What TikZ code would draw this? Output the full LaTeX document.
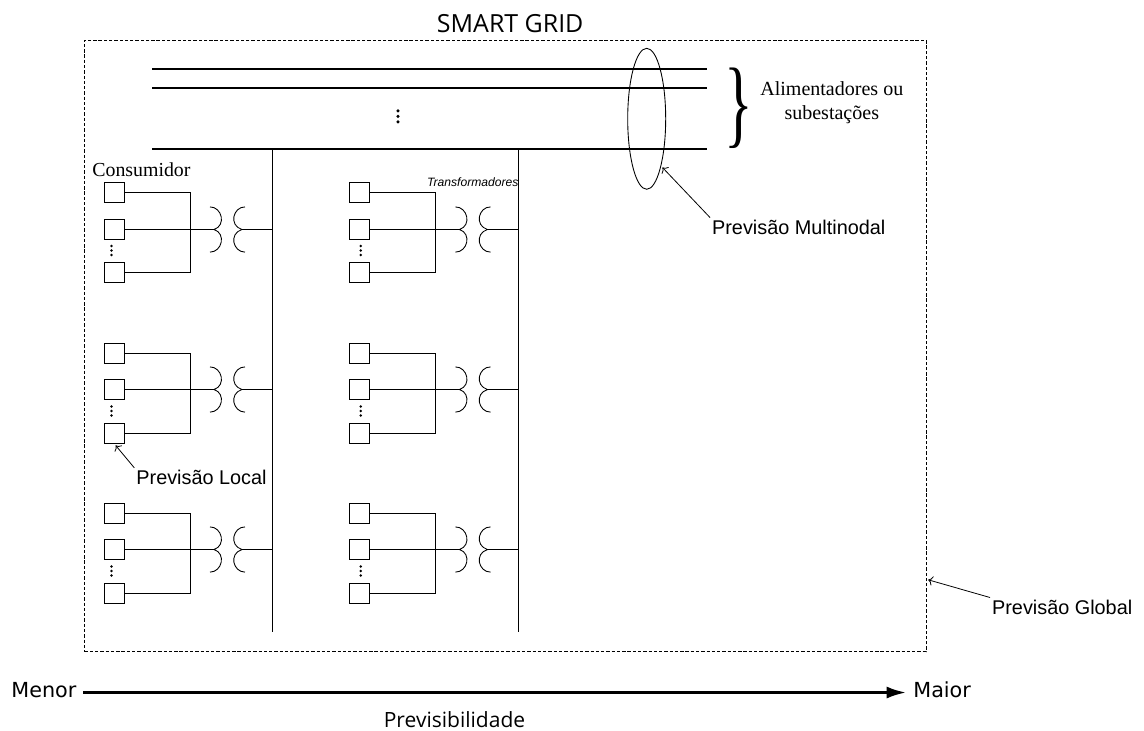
\documentclass[tikz,border=0pt]{standalone}
\usepackage{fontspec}
\usepackage{graphicx}
\usepackage{xcolor}
\usepackage{tikz}
\usetikzlibrary{shapes.geometric,arrows.meta}
\setmainfont{Liberation Sans}
\newfontfamily\SGSerif{Liberation Serif}
\newfontfamily\SGVera{DejaVu Sans}
\newfontfamily\SGOpen{Open Sans}
\tikzset{
  SGquad/.style={draw,line width=.6pt,inner sep=0pt,minimum width=.4cm,minimum height=.4cm},
  SGfio/.style={line width=.6pt},
  SGbarra/.style={line width=1.1pt},
  SGseta/.style={line width=.45pt,->,shorten >=1pt},
  SGprev/.style={anchor=base west,inner sep=1pt,font=\fontsize{11.3}{13}\selectfont},
  SGeixo/.style={anchor=base west,inner ysep=0pt,inner xsep=3.6pt,text height=9pt,text depth=3.9pt,font=\SGVera\fontsize{11.8}{14}\selectfont},
  SGtrafo/.pic={
    \draw[line width=.5pt] (-18,-22.6) .. controls (-6,-22.6) and (-1.5,-4) .. (-14,0) .. controls (-1.5,4) and (-6,22.6) .. (-18,22.6);
    \draw[line width=.5pt] (17,-22.6) .. controls (5,-22.6) and (.5,-4) .. (14,0) .. controls (.5,4) and (5,22.6) .. (17,22.6);
    \coordinate (-in) at (-14,0);
    \coordinate (-out) at (14,0);
  },
  SGpontos/.pic={
    \fill (0,-5.5) circle (1.7);
    \fill (0,0) circle (1.7);
    \fill (0,5.5) circle (1.7);
  }
}

\begin{document}
\begin{tikzpicture}[x=.02cm,y=-.02cm]
\path[use as bounding box] (0,0) rectangle (1144,731);
\node[draw,dashed,dash pattern=on 1.9pt off 1.1pt,line width=.45pt,inner sep=0pt,minimum width=16.83cm,minimum height=12.234cm] (caixa) at (505.25,345.85) {};
\node[anchor=base,inner sep=0pt,font=\SGOpen\fontsize{14.2}{16}\selectfont] (titulo) at (510.2,32.7) {SMART GRID};
\coordinate (l1a) at (152,69);
\coordinate (l1b) at (707,69);
\coordinate (l2a) at (152,88);
\coordinate (l2b) at (707,88);
\coordinate (l3a) at (152,149);
\coordinate (l3b) at (707,149);
\draw[SGbarra] (l1a) -- (l1b);
\draw[SGbarra] (l2a) -- (l2b);
\draw[SGbarra] (l3a) -- (l3b);
\pic at (398,116.3) {SGpontos};
\node[ellipse,draw,line width=.5pt,inner sep=0pt,minimum width=.76cm,minimum height=2.82cm] (elipse) at (646.7,118.8) {};
\node[inner sep=0pt] (chave) at (738.5,108.5) {\scalebox{1}[1.63]{\SGSerif\fontsize{34}{36}\selectfont\}}};
\node[align=center,inner sep=0pt,font=\SGSerif\fontsize{11.4}{13.3}\selectfont] (alim) at (831.8,102.5) {Alimentadores ou\\subestações};
\node[SGprev] (prevmulti) at (710,234) {Previsão Multinodal};
\node[SGprev] (prevlocal) at (134.3,484.3) {Previsão Local};
\node[SGprev] (prevglobal) at (990,614) {Previsão Global};
\coordinate (pontaglobal) at (926.5,579.3);
\draw[SGseta] (prevmulti.north west) -- (elipse.-73);
\draw[SGseta] (prevglobal.north west) -- (pontaglobal);
\node[anchor=base west,inner sep=0pt,font=\SGSerif\fontsize{11.3}{13}\selectfont] (consumidor) at (92,176) {Consumidor};
\node[anchor=base west,inner sep=0pt,font=\itshape\fontsize{6.9}{8}\selectfont] (trafos) at (426.7,186.7) {Transformadores};
\coordinate (b1t) at (272.5,149);
\coordinate (b1b) at (272.5,632);
\coordinate (b2t) at (518.5,149);
\coordinate (b2b) at (518.5,632);
\draw[SGfio] (b1t) -- (b1b);
\draw[SGfio] (b2t) -- (b2b);
% coluna 1
\node[SGquad] (q11) at (114.5,192.5) {};
\node[SGquad] (q12) at (114.5,229.5) {};
\node[SGquad] (q13) at (114.5,272.5) {};
\pic[scale=.82] at (111.5,250.5) {SGpontos};
\pic (t1) at (228,229.5) {SGtrafo};
\coordinate (j1) at (190.5,229.5);
\draw[SGfio] (q11.east) -| (j1) |- (q13.east);
\draw[SGfio] (q12.east) -- (t1-in);
\draw[SGfio] (t1-out) -- (t1-out -| b1t);
\node[SGquad] (q21) at (114.5,353.5) {};
\node[SGquad] (q22) at (114.5,389.5) {};
\node[SGquad] (q23) at (114.5,433.5) {};
\pic[scale=.82] at (111.5,411) {SGpontos};
\pic (t2) at (228,389.5) {SGtrafo};
\coordinate (j2) at (190.5,389.5);
\draw[SGfio] (q21.east) -| (j2) |- (q23.east);
\draw[SGfio] (q22.east) -- (t2-in);
\draw[SGfio] (t2-out) -- (t2-out -| b1t);
\draw[SGseta] (prevlocal.north west) -- (q23.south);
\node[SGquad] (q31) at (114.5,513.5) {};
\node[SGquad] (q32) at (114.5,549.5) {};
\node[SGquad] (q33) at (114.5,593.5) {};
\pic[scale=.82] at (111.5,571) {SGpontos};
\pic (t3) at (228,549.5) {SGtrafo};
\coordinate (j3) at (190.5,549.5);
\draw[SGfio] (q31.east) -| (j3) |- (q33.east);
\draw[SGfio] (q32.east) -- (t3-in);
\draw[SGfio] (t3-out) -- (t3-out -| b1t);
% coluna 2
\node[SGquad] (q41) at (359.5,192.5) {};
\node[SGquad] (q42) at (359.5,229.5) {};
\node[SGquad] (q43) at (359.5,272.5) {};
\pic[scale=.82] at (360.7,250.5) {SGpontos};
\pic (t4) at (473.5,229.5) {SGtrafo};
\coordinate (j4) at (435.5,229.5);
\draw[SGfio] (q41.east) -| (j4) |- (q43.east);
\draw[SGfio] (q42.east) -- (t4-in);
\draw[SGfio] (t4-out) -- (t4-out -| b2t);
\node[SGquad] (q51) at (359.5,353.5) {};
\node[SGquad] (q52) at (359.5,389.5) {};
\node[SGquad] (q53) at (359.5,433.5) {};
\pic[scale=.82] at (360.7,411) {SGpontos};
\pic (t5) at (473.5,389.5) {SGtrafo};
\coordinate (j5) at (435.5,389.5);
\draw[SGfio] (q51.east) -| (j5) |- (q53.east);
\draw[SGfio] (q52.east) -- (t5-in);
\draw[SGfio] (t5-out) -- (t5-out -| b2t);
\node[SGquad] (q61) at (359.5,513.5) {};
\node[SGquad] (q62) at (359.5,549.5) {};
\node[SGquad] (q63) at (359.5,593.5) {};
\pic[scale=.82] at (360.7,571) {SGpontos};
\pic (t6) at (473.5,549.5) {SGtrafo};
\coordinate (j6) at (435.5,549.5);
\draw[SGfio] (q61.east) -| (j6) |- (q63.east);
\draw[SGfio] (q62.east) -- (t6-in);
\draw[SGfio] (t6-out) -- (t6-out -| b2t);
% eixo
\node[SGeixo] (menor) at (4.7,697) {Menor};
\node[SGeixo] (maior) at (906.7,697) {Maior};
\draw[line width=1.9pt,-{Latex[length=.4cm,width=.24cm]}] (menor.east) -- (maior.west);
\node[anchor=base,inner sep=0pt,font=\SGOpen\fontsize{11.95}{14}\selectfont] (previs) at (454.5,727.3) {Previsibilidade};
\end{tikzpicture}
\end{document}
